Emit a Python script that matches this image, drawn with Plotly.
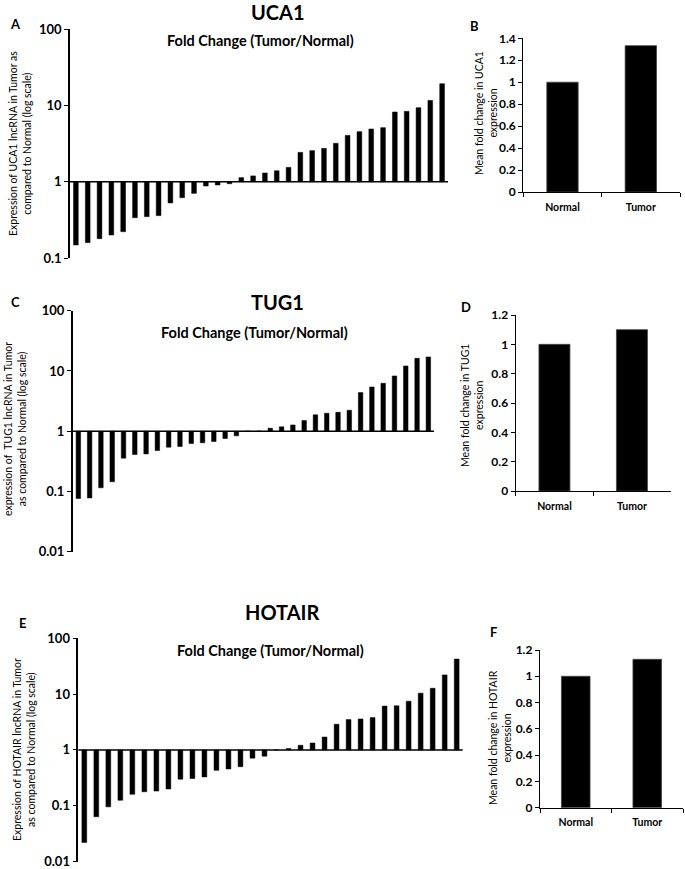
import plotly.graph_objects as go

W, H = 685, 869

# ---------------- data ----------------
uca1_fold = [0.148, 0.159, 0.179, 0.20, 0.221, 0.337, 0.348, 0.359, 0.526, 0.617, 0.703, 0.877, 0.904, 0.94,
             1.13, 1.19, 1.30, 1.39, 1.54, 2.42, 2.55, 2.73, 3.18, 4.04, 4.52, 4.90, 5.10, 8.18, 8.34, 9.31, 11.6, 19.2]
tug1_fold = [0.0766, 0.078, 0.115, 0.145, 0.357, 0.41, 0.42, 0.478, 0.543, 0.557, 0.625, 0.641, 0.674, 0.756, 0.837,
             1.0, 1.0, 1.12, 1.18, 1.27, 1.50, 1.87, 1.99, 2.06, 2.23, 4.37, 5.43, 6.25, 8.26, 12.1, 16.2, 17.1]
hotair_fold = [0.022, 0.0634, 0.0953, 0.125, 0.16, 0.178, 0.183, 0.199, 0.299, 0.307, 0.328, 0.43, 0.455, 0.5, 0.712, 0.773,
               1.0, 1.06, 1.21, 1.33, 1.70, 2.89, 3.49, 3.59, 3.79, 6.09, 6.18, 7.47, 10.4, 12.7, 22.1, 42.5]

groups = ["Normal", "Tumor"]
uca1_mean = [1.0, 1.333]
tug1_mean = [1.0, 1.10]
hotair_mean = [1.0, 1.129]

log_ticks = [0.01, 0.1, 1, 10, 100]
log_ticktext = ["0.01", "0.1", "1", "10", "100"]

FONT = "Lato"


def fx(px):
    return px / W


def fy(py):
    return 1 - py / H


fig = go.Figure()

# ---------------- panel geometry (pixels) ----------------
panels = [
    dict(kind="wf", data=uca1_fold, x=(70, 448), y=(258, 29), rng=(-1, 2), ax="1"),
    dict(kind="bar", data=uca1_mean, x=(523.3, 680), y=(192, 38.3), rng=(0, 1.4), ax="2", dt=0.2),
    dict(kind="wf", data=tug1_fold, x=(72.7, 434), y=(551.7, 310.7), rng=(-2, 2), ax="3"),
    dict(kind="bar", data=tug1_mean, x=(515.7, 670.7), y=(491, 315), rng=(0, 1.2), ax="4", dt=0.2),
    dict(kind="wf", data=hotair_fold, x=(78.3, 462.7), y=(861.5, 638.3), rng=(-2, 2), ax="5"),
    dict(kind="bar", data=hotair_mean, x=(540, 683), y=(807.7, 650), rng=(0, 1.2), ax="6", dt=0.2),
]

layout = dict(
    width=W, height=H,
    margin=dict(l=0, r=0, t=0, b=0, autoexpand=False),
    paper_bgcolor="white", plot_bgcolor="white",
    showlegend=False,
    font=dict(family=FONT, color="black"),
)
shapes = []

for p in panels:
    n = p["ax"]
    xa = "xaxis" + ("" if n == "1" else n)
    ya = "yaxis" + ("" if n == "1" else n)
    xr = "x" + ("" if n == "1" else n)
    yr = "y" + ("" if n == "1" else n)
    xdom = [fx(p["x"][0]), fx(p["x"][1])]
    ydom = [fy(p["y"][0]), fy(p["y"][1])]
    if p["kind"] == "wf":
        vals = p["data"]
        cats = [str(i + 1) for i in range(len(vals))]
        fig.add_trace(go.Bar(
            x=cats, y=[v - 1 for v in vals], base=[1] * len(vals),
            width=0.4, marker=dict(color="black", line=dict(color="black", width=0.5)),
            xaxis=xr, yaxis=yr, hoverinfo="skip"))
        layout[xa] = dict(domain=xdom, anchor=yr, showline=False, showticklabels=False,
                          ticks="", showgrid=False, zeroline=False, range=[-0.5, len(vals) - 0.5],
                          type="category", fixedrange=True, automargin=False)
        lo, hi = p["rng"]
        tv = [t for t in log_ticks if 10 ** lo <= t <= 10 ** hi]
        tt = [log_ticktext[log_ticks.index(t)] for t in tv]
        layout[ya] = dict(domain=ydom, anchor=xr, type="log", range=[lo, hi],
                          showline=True, linecolor="black", linewidth=1.5,
                          ticks="outside", ticklen=4, tickwidth=1.2, tickcolor="black",
                          tickvals=tv, ticktext=tt, showgrid=False, zeroline=False,
                          automargin=False, ticklabeloverflow="allow",
                          tickfont=dict(family=FONT, size=13, color="black", weight="bold"))
        shapes.append(dict(type="line", xref=xr + " domain", x0=0, x1=1, yref=yr, y0=1, y1=1,
                           line=dict(color="black", width=1.5)))
    else:
        vals = p["data"]
        fig.add_trace(go.Bar(
            x=groups, y=vals, width=0.4,
            marker=dict(color="black", line=dict(color="#444", width=0.8)),
            xaxis=xr, yaxis=yr, hoverinfo="skip"))
        layout[xa] = dict(domain=xdom, anchor=yr, showline=True, linecolor="black", linewidth=1.3,
                          ticks="outside", tickson="boundaries", ticklen=4, tickcolor="black",
                          tickwidth=1.2, showgrid=False, zeroline=False, automargin=False,
                          ticklabelstandoff=5, ticklabeloverflow="allow",
                          tickfont=dict(family=FONT, size=10.5, color="black", weight="bold"))
        lo, hi = p["rng"]
        nt = int(round(hi / p["dt"]))
        tv = [round(i * p["dt"], 1) for i in range(nt + 1)]
        tt = [("%g" % t) for t in tv]
        layout[ya] = dict(domain=ydom, anchor=xr, range=[lo, hi],
                          showline=True, linecolor="black", linewidth=1.3,
                          ticks="outside", ticklen=4, tickwidth=1.2, tickcolor="black",
                          tickvals=tv, ticktext=tt, showgrid=False, zeroline=False,
                          automargin=False, ticklabeloverflow="allow",
                          tickfont=dict(family=FONT, size=12, color="black", weight="bold"))

layout["shapes"] = shapes

annotations = []


def ann(text, x, y, size, bold=False, angle=0):
    t = "<b>%s</b>" % text if bold else text
    annotations.append(dict(text=t, x=fx(x), y=fy(y), xref="paper", yref="paper",
                            xanchor="center", yanchor="middle", showarrow=False,
                            textangle=angle, font=dict(family=FONT, size=size, color="black")))


# titles
ann("UCA1", 278, 12, 20, True)
ann("TUG1", 277, 302, 20, True)
ann("HOTAIR", 282, 612, 20, True)
# panel letters
ann("A", 16, 24, 13, True)
ann("B", 474, 26, 13, True)
ann("C", 16, 302, 13, True)
ann("D", 466, 307, 13, True)
ann("E", 22, 623, 13, True)
ann("F", 493, 632, 13, True)
# inner titles
ann("Fold Change (Tumor/Normal)", 260, 40, 14.5, True)
ann("Fold Change (Tumor/Normal)", 254, 332, 14.5, True)
ann("Fold Change (Tumor/Normal)", 270, 650, 14.5, True)
# y-axis labels
ann("Expression of UCA1 lncRNA in Tumor as<br>compared to Normal (log scale)", 20, 144, 10.5, angle=-90)
ann("Mean fold change in UCA1<br>expression", 486, 113, 10.5, angle=-90)
ann("expression of  TUG1 lncRNA in Tumor<br>as compared to Normal (log scale)", 15, 429, 10.5, angle=-90)
ann("Mean fold change in TUG1<br>expression", 472, 406, 10.5, angle=-90)
ann("Expression of HOTAIR lncRNA in Tumor<br>as compared to Normal (log scale)", 24, 750, 10.5, angle=-90)
ann("Mean fold change in HOTAIR<br>expression", 500, 738, 10.5, angle=-90)

layout["annotations"] = annotations
fig.update_layout(**layout)

fig.write_html("out.html", config={"displayModeBar": False},
               post_script="document.body.style.margin='0px';")
